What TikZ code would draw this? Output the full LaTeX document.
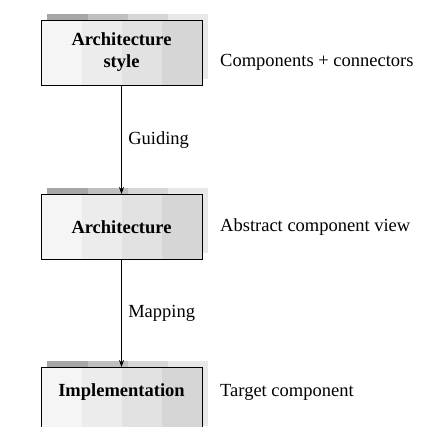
\documentclass[tikz,border=0pt]{standalone}
\usepackage{fontspec}
\setmainfont{Liberation Serif}
\usetikzlibrary{arrows.meta}

\tikzset{
  archbox/.style={draw, line width=0.9pt, minimum width=161pt, minimum height=65pt,
    align=center, font=\fontsize{18.5}{22}\selectfont\bfseries},
  note/.style={anchor=west, inner sep=0pt, font=\fontsize{18.5}{22}\selectfont},
  flow/.style={line width=0.9pt, -{Stealth[length=7pt,width=5pt]}}
}

\begin{document}
\begin{tikzpicture}[x=1pt,y=1pt]
	\useasboundingbox (0,0) rectangle (422,427);
	\fill[white] (0,0) rectangle (422,427);
	
	% shadows and fills of the boxes
	\foreach \cy in {374.5,200,27}{
		\fill[gray!70] (47,\cy-26.5) rectangle (88,\cy+38.5);
		\fill[gray!50] (88,\cy-26.5) rectangle (128,\cy+38.5);
		\fill[gray!32] (128,\cy-26.5) rectangle (168,\cy+38.5);
		\fill[gray!18] (168,\cy-26.5) rectangle (208,\cy+38.5);
		\fill[gray!8] (41,\cy-32.5) rectangle (82,\cy+32.5);
		\fill[gray!15] (82,\cy-32.5) rectangle (122,\cy+32.5);
		\fill[gray!23] (122,\cy-32.5) rectangle (162,\cy+32.5);
		\fill[gray!32] (162,\cy-32.5) rectangle (202,\cy+32.5);
	}
	
	\node[archbox] (style) at (121.5,374.5) {Architecture\\style};
	\node[archbox] (arch) at (121.5,200) {Architecture};
	\node[archbox] (impl) at (121.5,27) {};
	\node[font=\fontsize{18.5}{22}\selectfont\bfseries] (impltext) at (121.5,35) {Implementation};
	
	\draw[flow] (style) -- node[right=3pt, font=\fontsize{18.5}{22}\selectfont] (guide) {Guiding} (arch);
	\draw[flow] (arch) -- node[right=3pt, font=\fontsize{18.5}{22}\selectfont] (map) {Mapping} (impl);
	
	\node[note] (cc) at (220,365) {Components + connectors};
	\node[note] (acv) at (220,200) {Abstract component view};
	\node[note] (tc) at (220,35) {Target component};
\end{tikzpicture}
\end{document}
